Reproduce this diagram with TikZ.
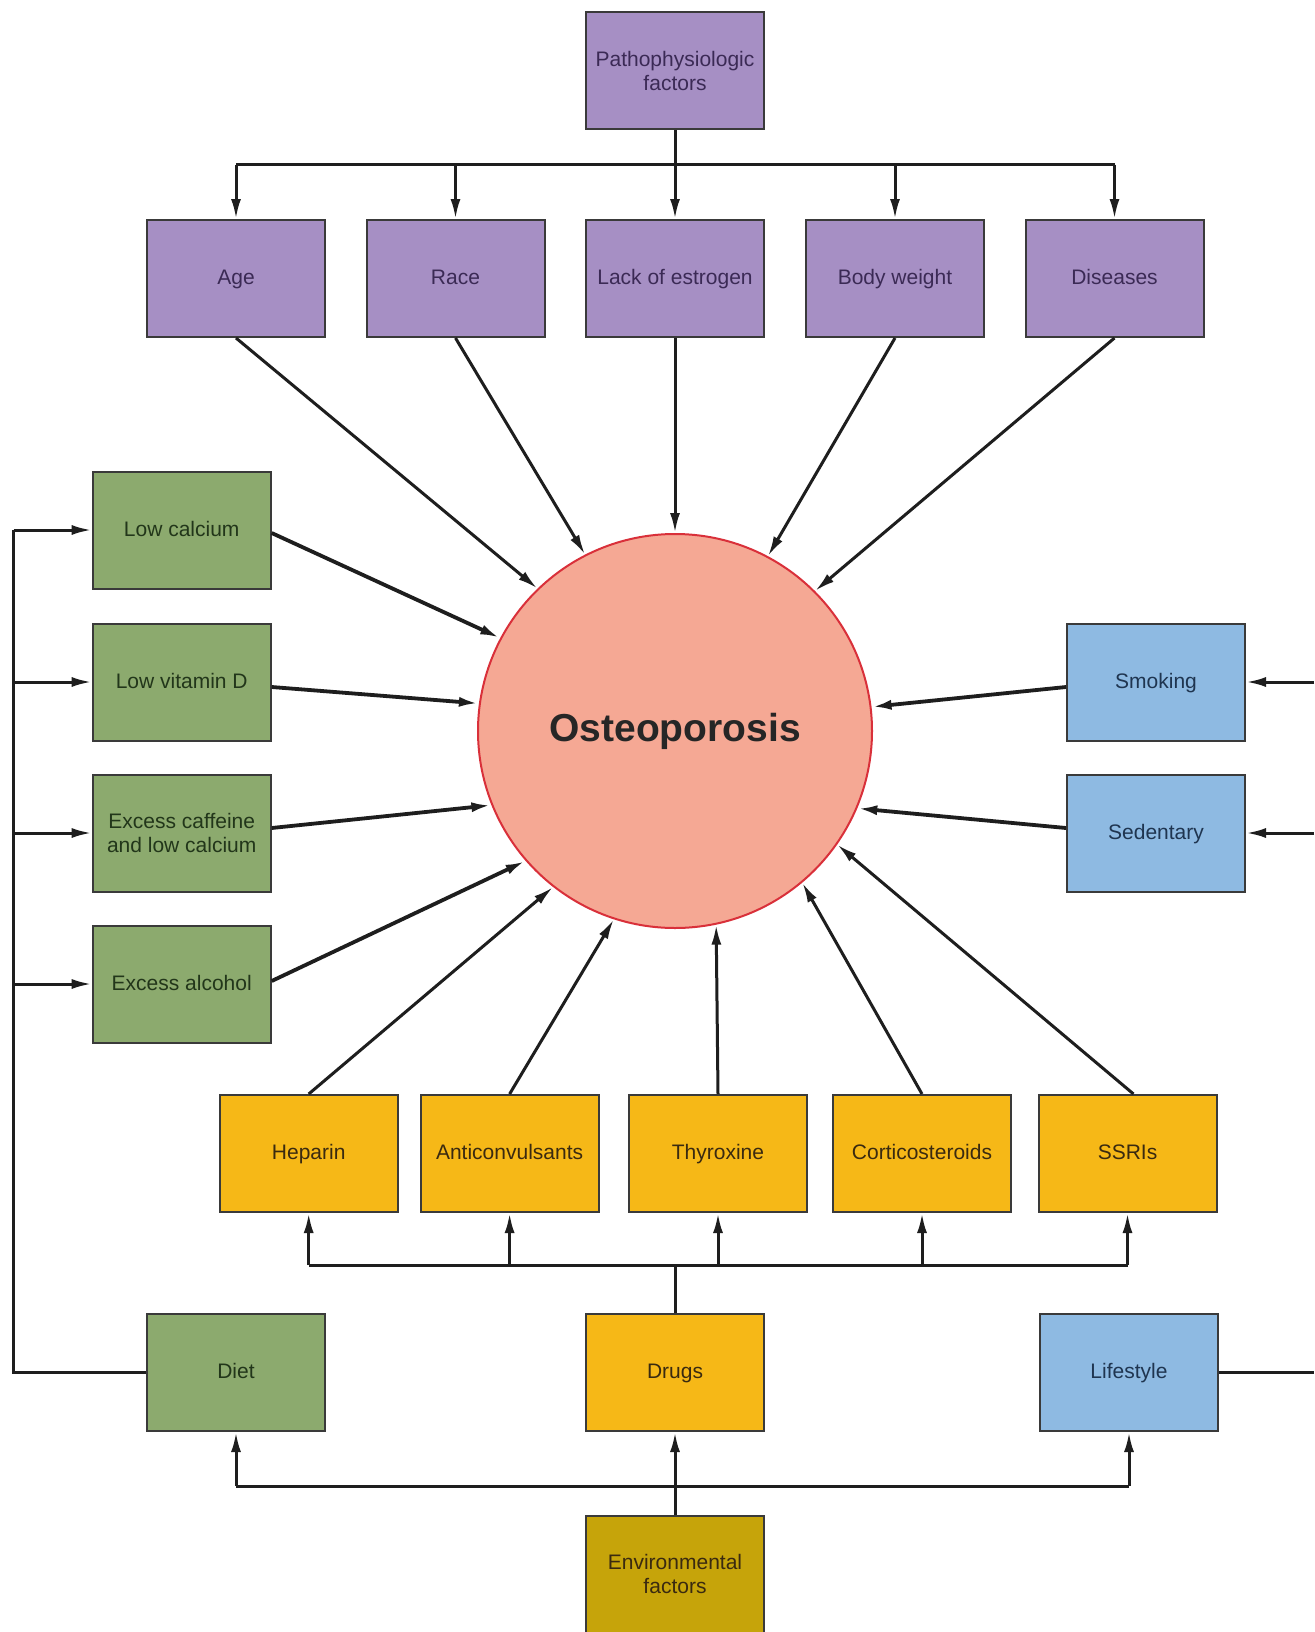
\documentclass[tikz,border=0pt]{standalone}
\usepackage{fontspec}
\setmainfont{Liberation Sans}
\usetikzlibrary{arrows.meta}
\definecolor{purp}{HTML}{A68FC4}
\definecolor{purptext}{HTML}{3B2A55}
\definecolor{grn}{HTML}{8CAA6E}
\definecolor{grntext}{HTML}{22361A}
\definecolor{blu}{HTML}{8EBAE2}
\definecolor{blutext}{HTML}{1F3550}
\definecolor{yel}{HTML}{F6B817}
\definecolor{yeltext}{HTML}{3A2A10}
\definecolor{envc}{HTML}{C6A40A}
\definecolor{circfill}{HTML}{F5A894}
\definecolor{circline}{HTML}{D9303A}
\definecolor{boxline}{HTML}{3A3A3A}
\definecolor{lin}{HTML}{1E1E1E}
\begin{document}
\begin{tikzpicture}[x=0.5pt,y=-0.5pt,
  box/.style={draw=boxline,line width=1pt,minimum width=89pt,minimum height=58.5pt,inner sep=2pt,align=center,font=\fontsize{10.5}{12}\selectfont,text height=1.6ex,text depth=0.45ex},
  twoline/.style={text height=,text depth=},
  pbox/.style={box,fill=purp,text=purptext},
  gbox/.style={box,fill=grn,text=grntext},
  bbox/.style={box,fill=blu,text=blutext},
  ybox/.style={box,fill=yel,text=yeltext},
  ebox/.style={box,fill=envc,text=yeltext},
  conn/.style={line width=1.5pt,draw=lin},
  arr/.style={conn,-{Latex[length=10pt,width=5pt]}},
  tarr/.style={line width=1.9pt,draw=lin,-{Latex[length=10pt,width=5pt]}},
]
\useasboundingbox[fill=white] (0,0) rectangle (1314,1632);

% nodes
\node[pbox,twoline] (patho) at (675,71) {Pathophysiologic\\factors};
\node[pbox] (age) at (236,278.5) {Age};
\node[pbox] (race) at (455.5,278.5) {Race};
\node[pbox] (lack) at (675,278.5) {Lack of estrogen};
\node[pbox] (body) at (895,278.5) {Body weight};
\node[pbox] (dis) at (1114.5,278.5) {Diseases};

\node[gbox] (lowcal) at (181.7,530) {Low calcium};
\node[gbox] (vitd) at (181.7,682) {Low vitamin D};
\node[gbox,twoline] (caff) at (181.7,833) {Excess caffeine\\and low calcium};
\node[gbox] (alc) at (181.7,984) {Excess alcohol};

\node[bbox] (smoke) at (1156,682) {Smoking};
\node[bbox] (sed) at (1156,833) {Sedentary};

\node[draw=circline,line width=1pt,fill=circfill,circle,minimum size=197pt,inner sep=0pt,
  font=\fontsize{19.5}{22}\selectfont\bfseries,text=black!85] (osteo) at (675,731) {Osteoporosis};

\node[ybox] (hep) at (308.7,1153.5) {Heparin};
\node[ybox] (anti) at (509.6,1153.5) {Anticonvulsants};
\node[ybox] (thyr) at (718,1153.5) {Thyroxine};
\node[ybox] (cort) at (922,1153.5) {Corticosteroids};
\node[ybox] (ssri) at (1127.5,1153.5) {SSRIs};

\node[gbox] (diet) at (236,1372.5) {Diet};
\node[ybox] (drugs) at (675,1372.5) {Drugs};
\node[bbox] (life) at (1129,1372.5) {Lifestyle};

\node[ebox,twoline] (env) at (675,1574) {Environmental\\factors};

% top bus
\coordinate (tb) at (0,164.5);
\draw[conn] (age.north |- tb) -- (dis.north |- tb);
\draw[arr] (patho.south) -- (lack.north);
\foreach \n in {age,race,body,dis} \draw[arr] (\n.north |- tb) -- (\n.north);

% top row to circle
\draw[arr] (age.south) -- (osteo.134.4);
\draw[arr] (race.south) -- (osteo.117.6);
\draw[arr] (lack.south) -- (osteo.90);
\draw[arr] (body.south) -- (osteo.62.5);
\draw[arr] (dis.south) -- (osteo.45.6);

% left factors
\draw[tarr] ([yshift=-1.5pt]lowcal.east) -- (osteo.152.3);
\draw[tarr] ([yshift=-2.5pt]vitd.east) -- (osteo.172.6);
\draw[tarr] ([yshift=2.5pt]caff.east) -- (osteo.202);
\draw[tarr] ([yshift=1.5pt]alc.east) -- (osteo.221.4);

% right factors
\draw[tarr] ([yshift=-2.5pt]smoke.west) -- (osteo.7.4);
\draw[tarr] ([yshift=2.5pt]sed.west) -- (osteo.337.7);

% drugs to circle
\draw[arr] (hep.north) -- (osteo.232.8);
\draw[arr] (anti.north) -- (osteo.252.8);
\draw[arr] (thyr.north) -- (osteo.282.4);
\draw[arr] (cort.north) -- (osteo.310);
\draw[arr] ([xshift=3pt]ssri.north) -- (osteo.325);

% left bus (diet)
\coordinate (lb) at (13.5,0);
\draw[conn] (diet.west) -- (diet.west -| lb) -- (lowcal.west -| lb);
\foreach \n in {lowcal,vitd,caff,alc} \draw[arr] (\n.west -| lb) -- (\n.west);

% right bus (lifestyle)
\coordinate (rb) at (1314,0);
\draw[conn] (life.east) -- (life.east -| rb);
\foreach \n in {smoke,sed} \draw[arr] (\n.east -| rb) -- (\n.east);

% drug bus
\coordinate (db) at (0,1265);
\draw[conn] (drugs.north) -- (drugs.north |- db);
\draw[conn] (hep.south |- db) -- (ssri.south |- db);
\foreach \n in {hep,anti,thyr,cort,ssri} \draw[arr] (\n.south |- db) -- (\n.south);

% environmental bus
\coordinate (eb) at (0,1486);
\draw[conn] (diet.south |- eb) -- (life.south |- eb);
\draw[arr] (env.north) -- (drugs.south);
\foreach \n in {diet,life} \draw[arr] (\n.south |- eb) -- (\n.south);
\end{tikzpicture}
\end{document}
